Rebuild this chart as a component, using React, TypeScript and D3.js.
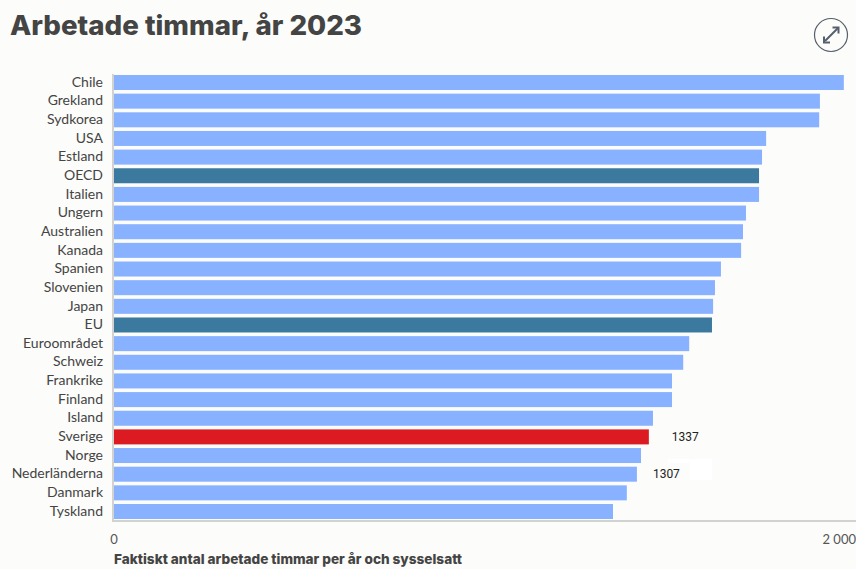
import React from "react";
import * as d3 from "d3";

const categories = ["Chile","Grekland","Sydkorea","USA","Estland","OECD","Italien","Ungern","Australien","Kanada","Spanien","Slovenien","Japan","EU","Euroområdet","Schweiz","Frankrike","Finland","Island","Sverige","Norge","Nederländerna","Danmark","Tyskland"];
const hours = [1954,1890,1888,1746,1735,1727,1727,1692,1684,1679,1625,1609,1604,1601,1540,1524,1494,1494,1443,1432,1411,1400,1373,1336];
const aggregates = ["OECD","EU"];
const highlight = "Sverige";
const annotations = [{ name: "Sverige", label: "1337", dx: 23 }, { name: "Nederländerna", label: "1307", dx: 16 }];
const xTicks = [0, 2000];
const title = "Arbetade timmar, år 2023";
const axisTitle = "Faktiskt antal arbetade timmar per år och sysselsatt";

const W = 856, H = 569;
const BG = "#FCFCFA", BLUE = "#88B1FF", TEAL = "#3B7A9E", RED = "#DB1A22", GREY = "#D2D2D0", TXT = "#444444";
const LABEL_FONT = "Lato, sans-serif";
const HEAD_FONT = "Inter, sans-serif";

export default function App() {
  const x = d3.scaleLinear().domain([0, 2000]).range([114, 861]);
  const y = d3.scaleBand<string>().domain(categories).range([75, 519]).paddingInner(0.196).paddingOuter(0);
  const fmt = (v: number) => d3.format(",")(v).replace(",", " ");
  return (
    <svg width={W} height={H} viewBox={`0 0 ${W} ${H}`} style={{ position: "fixed", left: 0, top: 0, background: BG, display: "block" }}>
      <rect x={0} y={0} width={W} height={H} fill={BG} />
      <text x={10} y={35} fontFamily={HEAD_FONT} fontWeight={800} fontSize={27} fill={TXT} textLength={352} lengthAdjust="spacingAndGlyphs">{title}</text>
      <g>
        <circle cx={831} cy={35} r={16.5} fill="none" stroke="#56606C" strokeWidth={1.2} />
        <g stroke="#56606C" strokeWidth={2} fill="none">
          <path d="M825 41 L838 28" />
          <path d="M832.5 27.5 H838.5 V33.5" />
          <path d="M824 36.5 V42.5 H830" />
        </g>
      </g>
      {categories.map((c, i) => {
        const fill = c === highlight ? RED : aggregates.includes(c) ? TEAL : BLUE;
        return <rect key={c} x={x(0)} y={y(c)} width={x(hours[i]) - x(0)} height={y.bandwidth()} fill={fill} />;
      })}
      <line x1={113} x2={113} y1={74} y2={522} stroke={GREY} strokeWidth={2} />
      <line x1={112} x2={856} y1={521} y2={521} stroke={GREY} strokeWidth={2} />
      {categories.map((c) => (
        <text key={c} x={103} y={y(c)! + y.bandwidth() / 2 + 4.2} textAnchor="end" fontFamily={LABEL_FONT} fontSize={14} fill={TXT}>{c}</text>
      ))}
      <rect x={668} y={459} width={44} height={4} fill="#fff" />
      <rect x={690} y={459} width={22} height={21} fill="#fff" />
      {annotations.map((a) => {
        const i = categories.indexOf(a.name);
        return <text key={a.name} x={x(hours[i]) + a.dx} y={y(a.name)! + y.bandwidth() / 2 + 4} fontFamily="Roboto, sans-serif" fontSize={12} fill="#222">{a.label}</text>;
      })}
      {xTicks.map((t, i) => (
        <text key={t} x={i === 0 ? x(t) : 856} y={544} textAnchor={i === 0 ? "middle" : "end"} fontFamily={LABEL_FONT} fontSize={13} fill="#555">{fmt(t)}</text>
      ))}
      <text x={114} y={564} fontFamily={HEAD_FONT} fontWeight={800} fontSize={13.5} fill={TXT} textLength={348} lengthAdjust="spacingAndGlyphs">{axisTitle}</text>
    </svg>
  );
}
